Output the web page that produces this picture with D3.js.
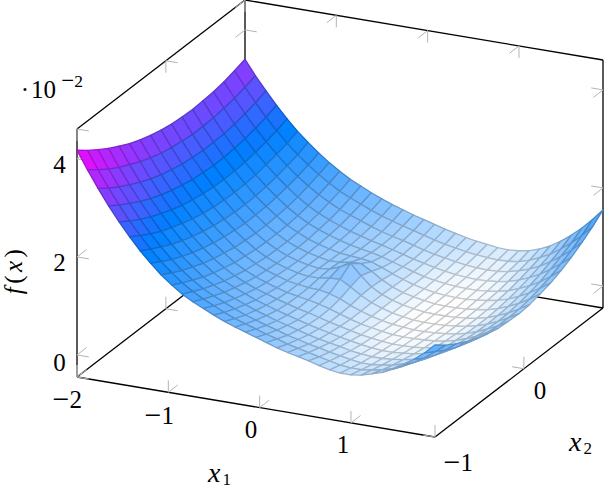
<!DOCTYPE html>
<html><head><meta charset="utf-8"><script src="https://cdn.jsdelivr.net/npm/d3@7"></script>
<style>html,body{margin:0;background:#fff}svg{display:block}#wrap{position:relative;width:604px;height:488px;overflow:hidden}
.t{position:absolute;line-height:1em;white-space:nowrap;color:#000}</style></head>
<body><div id="wrap"><svg id="c" width="604" height="488"></svg></div>
<script>
const xTicks=[-2,-1,0,1],yTicks=[-1,0],zTicks=[0,2,4];
const xDomain=[-2,1.92],yDomain=[-1,0.89],zDomain=[-0.45,4.61];
const colourStops=[0,.05,.18,.35,.5,1];
const colourValues=['#ffffff','#cce6ff','#80bfff','#389cff','#0080ff','#ff00ff'];
// f(x), in units of 1e-4; one row per x2 sample, one column per x1 sample
const row00=[418,381,347,315,286,259,234,212,192,175,160,148,138,128,119,111,104,97,90,83,77,72,67,61,56,53,53,56,62,69,79,91,106,123,143];
const row01=[401,365,331,300,271,245,221,199,180,163,149,137,127,117,108,101,94,87,81,74,69,64,59,54,49,47,47,50,54,60,69,80,93,109,126];
const row02=[386,350,317,287,258,232,209,187,168,152,138,127,117,108,99,92,85,79,72,67,61,57,52,48,44,41,41,44,47,53,60,70,82,96,112];
const row03=[372,337,305,275,247,221,198,177,159,142,129,118,109,100,92,85,78,72,66,60,55,51,47,42,39,37,37,39,42,46,53,62,73,85,100];
const row04=[360,326,294,264,237,212,189,168,150,134,121,111,102,93,86,79,73,67,61,56,51,46,42,38,35,33,33,35,37,41,47,55,65,77,91];
const row05=[349,316,284,255,228,204,181,161,143,128,115,105,96,89,82,76,70,65,59,53,48,43,38,35,32,30,30,31,33,37,42,50,59,70,83];
const row06=[340,307,276,248,221,197,175,155,138,122,110,100,92,85,79,75,71,66,60,53,46,40,36,32,29,28,28,29,31,34,39,46,55,66,78];
const row07=[333,300,270,242,216,192,170,151,133,119,107,97,90,83,79,76,75,71,64,54,46,39,34,30,28,26,26,27,29,32,37,44,53,63,76];
const row08=[327,295,265,237,212,188,167,148,131,116,104,95,88,82,79,79,83,84,72,58,47,39,33,29,26,25,25,26,28,31,36,43,52,63,75];
const row09=[323,292,262,235,209,186,165,146,129,115,103,94,87,82,79,81,89,100,78,59,47,39,33,29,26,25,25,26,28,31,36,44,53,64,77];
const row10=[321,289,260,233,208,185,164,146,129,115,103,94,87,82,78,79,82,83,71,57,46,38,33,29,26,25,25,26,29,32,38,46,56,68,82];
const row11=[320,289,260,233,209,186,165,147,131,116,105,95,88,82,77,75,73,70,62,53,45,38,33,29,27,26,26,28,31,35,41,50,61,74,88];
const row12=[321,290,261,235,210,188,168,150,133,119,107,98,90,83,77,73,69,64,57,51,44,38,34,31,29,28,28,30,33,38,46,55,67,81,97];
const row13=[323,293,264,238,214,192,172,154,137,123,111,101,93,85,79,73,68,62,56,50,45,40,36,33,31,30,31,33,37,43,52,62,76,91,108];
const row14=[327,297,269,243,219,197,177,159,143,129,117,106,98,90,82,75,69,64,58,52,47,43,39,36,34,33,34,37,42,49,59,71,86,102,122];
const row15=[333,303,275,249,225,203,183,166,150,136,123,113,104,95,87,80,74,68,62,56,51,47,43,40,38,37,38,41,47,56,67,81,97,116,137];
const row16=[340,310,283,257,233,211,192,174,158,144,131,121,111,102,94,87,80,74,68,62,57,52,48,45,42,41,43,47,54,64,77,93,111,132,155];
const Z=[row00,row01,row02,row03,row04,row05,row06,row07,row08,row09,row10,row11,row12,row13,row14,row15,row16].map(r=>r.map(v=>v/100));
const nx=Z[0].length,ny=Z.length;
const xs=d3.range(nx).map(d3.scaleLinear().domain([0,nx-1]).range(xDomain));
const ys=d3.range(ny).map(d3.scaleLinear().domain([0,ny-1]).range(yDomain));
const sx=d3.scaleLinear().domain(xDomain).range([0,358]);
const sxy=d3.scaleLinear().domain(xDomain).range([0,60]);
const syx=d3.scaleLinear().domain(yDomain).range([0,168]);
const syy=d3.scaleLinear().domain(yDomain).range([0,-129]);
const sz=d3.scaleLinear().domain(zDomain).range([0,-248]);
const ox=77,oy=377;
const P=(x,y,z)=>[ox+sx(x)+syx(y),oy+sxy(x)+syy(y)+sz(z)];
const svg=d3.select('#c');
const [zmin,zmax]=d3.extent(Z.flat());
const col=d3.scaleLinear().domain(colourStops.map(t=>zmin+t*(zmax-zmin))).range(colourValues);
const line=(a,b,s,w)=>svg.append('line').attr('x1',a[0]).attr('y1',a[1]).attr('x2',b[0]).attr('y2',b[1]).attr('stroke',s).attr('stroke-width',w);
const [x0,x1]=xDomain,[y0,y1]=yDomain,[z0,z1]=zDomain;
[[[x0,y0,z0],[x1,y0,z0]],[[x1,y0,z0],[x1,y1,z0]],[[x0,y0,z0],[x0,y1,z0]],[[x0,y1,z0],[x1,y1,z0]],[[x0,y0,z0],[x0,y0,z1]],[[x1,y1,z0],[x1,y1,z1]],[[x0,y1,z0],[x0,y1,z1]],[[x0,y0,z1],[x0,y1,z1]],[[x0,y1,z1],[x1,y1,z1]]]
.forEach(([a,b])=>line(P(...a),P(...b),'#000',1.3));
const tc='#b4b4b4',tw=1,vz=[0,-12],dx=[11.8,2],dy=[9.5,-7.4];
const tick=(p,v)=>line(p,[p[0]+v[0],p[1]+v[1]],tc,tw);
const neg=v=>[-v[0],-v[1]];
xTicks.forEach(t=>{let p=P(t,y0,z0);tick(p,vz);tick(p,dy);p=P(t,y1,z1);tick(p,neg(vz));tick(p,neg(dy));});
yTicks.forEach(t=>{let p=P(x1,t,z0);tick(p,vz);tick(p,neg(dx));p=P(x0,t,z0);tick(p,vz);tick(p,dx);p=P(x0,t,z1);tick(p,neg(vz));tick(p,dx);});
zTicks.forEach(t=>{let p=P(x0,y0,t);tick(p,dx);tick(p,dy);p=P(x1,y1,t);tick(p,neg(dx));tick(p,neg(dy));p=P(x0,y1,t);tick(p,dx);tick(p,neg(dy));});
const cells=[];
for(let j=0;j<ny-1;j++)for(let i=0;i<nx-1;i++)cells.push({i,j});
cells.sort((a,b)=>(a.i-a.j)-(b.i-b.j));
const mean=({i,j})=>(Z[j][i]+Z[j][i+1]+Z[j+1][i]+Z[j+1][i+1])/4;
svg.append('g').selectAll('path').data(cells).join('path').attr('d',({i,j})=>{
 const q=[[i,j],[i+1,j],[i+1,j+1],[i,j+1]].map(([a,b])=>P(xs[a],ys[b],Z[b][a]));return 'M'+q.join('L')+'Z';})
 .attr('fill',d=>col(mean(d)))
 .attr('stroke',d=>{const c=d3.rgb(col(mean(d)));return d3.rgb(c.r*.79,c.g*.79,c.b*.79).formatHex();})
 .attr('stroke-width',1.3).attr('stroke-linejoin','round');
const wrap=d3.select('#wrap');
const T=(s,x,y,a='middle',fs=25)=>wrap.append('div').attr('class','t').style('font-family',"'Liberation Serif','Times New Roman',serif")
 .style('left',x+'px').style('top',(y-.8375*fs)+'px').style('font-size',fs+'px')
 .style('transform',a==='middle'?'translateX(-50%)':a==='end'?'translateX(-100%)':'none').html(s);
const minus='<span style="font-size:30px;line-height:0;position:relative;top:1px">−</span>';
T(minus+'2',82,408,'end');T(minus+'1',174,424,'end');T('0',251,438);T('1',343,453);
T(minus+'1',473,471,'end');T('0',540,399);
T('4',59.5,173);T('2',59.5,271);T('0',59.5,371);
T('·',25,98);T('10',31,98,'start');
T('<span style="font-size:23px;line-height:0;position:relative;top:1px">−</span>2',83,88,'end',17.5);
const sub=(n)=>`<span style="font-size:17px;font-style:normal;position:relative;top:3.5px;left:2px">${n}</span>`;
T('<i>x</i>'+sub(1),208,482,'start',28);T('<i>x</i>'+sub(2),569,451,'start',28);
T('<i>f</i>(<i>x</i>)',22,270,'start',25).style('letter-spacing','3.5px').style('transform-origin','0 .8375em').style('transform','rotate(-90deg) translateX(-50%)');
</script></body></html>
